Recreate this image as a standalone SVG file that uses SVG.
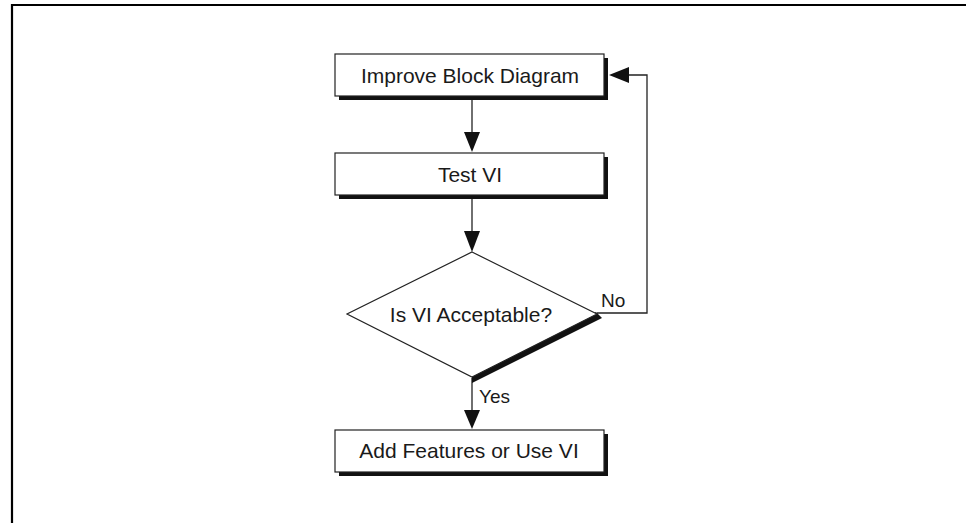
<svg xmlns="http://www.w3.org/2000/svg" width="966" height="523" viewBox="0 0 966 523">
<style>
.box{fill:#fff;stroke:#222;stroke-width:1.2}
.shadow{fill:#111}
.t{font-family:"Liberation Sans",Arial,sans-serif;font-size:21px;fill:#1a1a1a;text-anchor:middle}
.lbl{font-family:"Liberation Sans",Arial,sans-serif;font-size:19px;fill:#1a1a1a}
.ln{fill:none;stroke:#222;stroke-width:1.3}
</style>
<rect width="966" height="523" fill="#fff"/>
<path d="M12 523 V5 H966" fill="none" stroke="#000" stroke-width="2.2"/>
<g id="connectors">
<path class="ln" d="M472 97 V132"/>
<path d="M464 132 L480 132 L472 152 Z" fill="#111"/>
<path class="ln" d="M472 196 V231"/>
<path d="M464 231 L480 231 L472 252 Z" fill="#111"/>
<path class="ln" d="M472 378 V410"/>
<path d="M464 410 L480 410 L472 429 Z" fill="#111"/>
<path class="ln" d="M597 313 H647 V75 H628"/>
<path d="M629 67 L629 83 L609 75 Z" fill="#111"/>
<text class="lbl" x="479" y="403">Yes</text>
<text class="lbl" x="601" y="307">No</text>
</g>
<g id="n1">
<rect class="shadow" x="339" y="58" width="269" height="42"/>
<rect class="box" x="335" y="54" width="269" height="42"/>
<text class="t" x="470" y="83">Improve Block Diagram</text>
</g>
<g id="n2">
<rect class="shadow" x="339" y="157" width="269" height="42"/>
<rect class="box" x="335" y="153" width="269" height="42"/>
<text class="t" x="470" y="182">Test VI</text>
</g>
<g id="n3">
<polygon points="472,376 596,312 602,318 472,383" fill="#111"/>
<polygon points="472,252 597,314 472,377 347,314" fill="#fff" stroke="#222" stroke-width="1.2"/>
<text class="t" x="471" y="322">Is VI Acceptable?</text>
</g>
<g id="n4">
<rect class="shadow" x="339" y="434" width="269" height="42"/>
<rect class="box" x="335" y="430" width="269" height="42"/>
<text class="t" x="469" y="458">Add Features or Use VI</text>
</g>
</svg>
